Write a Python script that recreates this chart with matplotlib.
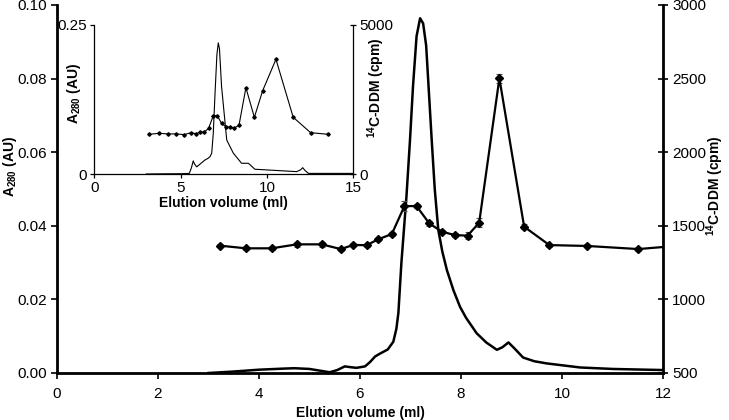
import matplotlib
matplotlib.use("Agg")
import matplotlib.pyplot as plt
import numpy as np

plt.rcParams['font.family'] = ['Liberation Sans', 'DejaVu Sans']
plt.rcParams['mathtext.fontset'] = 'custom'
plt.rcParams['mathtext.rm'] = 'Liberation Sans'
plt.rcParams['mathtext.bf'] = 'Liberation Sans:bold'

# ---------------- main panel data ----------------
main_a280_x = [3.0, 3.5, 4.0, 4.5, 4.7, 5.0, 5.4, 5.55, 5.7, 5.8, 5.93, 6.1, 6.2, 6.3, 6.4,
               6.55, 6.66, 6.72, 6.76, 6.82, 6.92, 6.99, 7.05, 7.12, 7.19, 7.25, 7.31,
               7.42, 7.48, 7.55, 7.63, 7.72, 7.85, 7.98, 8.1, 8.31, 8.5, 8.71, 8.82, 8.94,
               9.05, 9.23, 9.45, 9.7, 10.36, 11.0, 12.0]
main_a280_y = [0.0, 0.0004, 0.0009, 0.0012, 0.0013, 0.0011, 0.0002, 0.0008, 0.0018, 0.0016,
               0.0014, 0.0018, 0.003, 0.0045, 0.0053, 0.0064, 0.0085, 0.012, 0.0163, 0.030,
               0.048, 0.0633, 0.078, 0.0915, 0.0964, 0.0950, 0.0890, 0.0633, 0.050, 0.0389,
               0.033, 0.028, 0.0225, 0.018, 0.015, 0.0108, 0.0083, 0.0063, 0.007, 0.0083,
               0.0068, 0.0042, 0.0032, 0.0026, 0.0015, 0.0011, 0.0008]

main_cpm_x = [3.23, 3.74, 4.25, 4.75, 5.24, 5.62, 5.87, 6.13, 6.36, 6.63, 6.88, 7.12, 7.37,
              7.62, 7.88, 8.13, 8.36, 8.76, 9.25, 9.75, 10.5, 11.51, 12.5]
main_cpm_y = [1365, 1347, 1347, 1374, 1374, 1342, 1370, 1368, 1408, 1444, 1634, 1634, 1517,
              1460, 1437, 1433, 1521, 2502, 1494, 1369, 1363, 1342, 1370]
main_cpm_err = [10, 10, 10, 15, 15, 10, 10, 10, 12, 15, 35, 15, 15, 12, 12, 25, 30, 30, 15,
                10, 10, 10, 10]

# ---------------- inset data ----------------
ins_a280_x = [3.0, 4.0, 5.0, 5.5, 5.62, 5.73, 5.8, 5.93, 6.1, 6.41, 6.57, 6.70, 6.80, 6.89,
              7.0, 7.1, 7.18, 7.25, 7.37, 7.67, 8.05, 8.53, 8.92, 9.0, 9.3, 10.5, 11.72,
              11.95, 12.07, 12.2, 12.4, 13.5, 15.0]
ins_a280_y = [0.0, 0.0003, 0.0005, 0.001, 0.010, 0.022, 0.017, 0.012, 0.016, 0.0235, 0.026,
              0.029, 0.035, 0.068, 0.14, 0.20, 0.220, 0.21, 0.147, 0.057, 0.035, 0.018,
              0.018, 0.016, 0.008, 0.006, 0.004, 0.007, 0.0106, 0.006, 0.001, 0.001, 0.001]

ins_cpm_x = [3.18, 3.76, 4.25, 4.73, 5.21, 5.6, 5.89, 6.12, 6.37, 6.62, 6.89, 7.12, 7.37,
             7.62, 7.86, 8.11, 8.38, 8.78, 9.27, 9.75, 10.52, 11.52, 12.53, 13.55]
ins_cpm_y = [1332, 1366, 1345, 1345, 1322, 1386, 1352, 1399, 1409, 1534, 1956, 1956, 1701,
             1587, 1567, 1544, 1634, 2896, 1903, 2795, 3849, 1903, 1386, 1332]

main_xticks = [0, 2, 4, 6, 8, 10, 12]
main_yticks = [0.00, 0.02, 0.04, 0.06, 0.08, 0.10]
main_y2ticks = [500, 1000, 1500, 2000, 2500, 3000]
ins_xticks = [0, 5, 10, 15]
ins_yticks = [0, 0.25]
ins_y2ticks = [0, 5000]

fig = plt.figure(figsize=(7.29, 4.20), dpi=100)

# ---------------- main axes ----------------
ax = fig.add_axes([57/729, 47/420, 606/729, 368/420])
ax2 = ax.twinx()

ax.plot(main_a280_x, main_a280_y, color='black', lw=1.8, zorder=3)
ax2.errorbar(main_cpm_x, main_cpm_y, yerr=main_cpm_err, color='black', lw=1.6,
             marker='D', ms=4.5, ecolor='#555555', elinewidth=0.8, capsize=2.5,
             capthick=0.8, zorder=4)

ax.set_xlim(0, 12)
ax.set_ylim(0, 0.10)
ax2.set_ylim(500, 3000)
ax.set_xticks(main_xticks)
ax.set_yticks(main_yticks)
ax.set_yticklabels([f"{v:.2f}" for v in main_yticks])
ax2.set_yticks(main_y2ticks)

for s in ['top']:
    ax.spines[s].set_visible(False)
    ax2.spines[s].set_visible(False)
for s in ['left', 'bottom']:
    ax.spines[s].set_linewidth(2.0)
ax2.spines['right'].set_linewidth(2.0)
ax.spines['right'].set_visible(False)
ax2.spines['left'].set_visible(False)
ax2.spines['bottom'].set_visible(False)

ax.tick_params(axis='both', labelsize=11, width=1.2, length=4, direction='out', pad=3)
ax.tick_params(axis='x', pad=6)
ax2.tick_params(axis='y', labelsize=11, width=1.2, length=7, direction='inout', pad=3)

ax.set_xlabel('Elution volume (ml)', fontsize=10, fontweight='bold', labelpad=4)
ax.set_ylabel(r'A$_{\mathbf{280}}$ (AU)', fontsize=10, fontweight='bold')
ax.yaxis.set_label_coords(-0.063, 0.56)
ax2.set_ylabel(r'$^{\mathbf{14}}$C-DDM (cpm)', fontsize=10, fontweight='bold')
ax2.yaxis.set_label_coords(1.068, 0.51)

# ---------------- inset ----------------
ia = fig.add_axes([94.3/729, (420-174)/420, 259/729, 149/420])
ia.patch.set_alpha(0)
ib = ia.twinx()
ia.plot(ins_a280_x, ins_a280_y, color='black', lw=0.8)
ib.plot(ins_cpm_x, ins_cpm_y, color='black', lw=0.8, marker='D', ms=1.8)

ia.set_xlim(0, 15)
ia.set_ylim(0, 0.25)
ib.set_ylim(0, 5000)
ia.set_xticks(ins_xticks)
ia.set_yticks(ins_yticks)
ia.set_yticklabels(['0', '0.25'])
ib.set_yticks(ins_y2ticks)

ia.spines['top'].set_visible(False)
ib.spines['top'].set_visible(False)
ia.spines['right'].set_visible(False)
ib.spines['left'].set_visible(False)
ib.spines['bottom'].set_visible(False)
for s in ['left', 'bottom']:
    ia.spines[s].set_linewidth(0.9)
ib.spines['right'].set_linewidth(0.9)

ia.tick_params(axis='both', labelsize=11, width=0.9, length=3, direction='out', pad=2)
ib.tick_params(axis='y', labelsize=11, width=0.9, length=5, direction='inout', pad=2)

ia.set_xlabel('Elution volume (ml)', fontsize=10, fontweight='bold', labelpad=1)
ia.set_ylabel(r'A$_{\mathbf{280}}$ (AU)', fontsize=10, fontweight='bold')
ia.yaxis.set_label_coords(-0.045, 0.54)
ib.set_ylabel(r'$^{\mathbf{14}}$C-DDM (cpm)', fontsize=10, fontweight='bold')
ib.yaxis.set_label_coords(1.045, 0.58)

fig.savefig('out.png', dpi=100)
